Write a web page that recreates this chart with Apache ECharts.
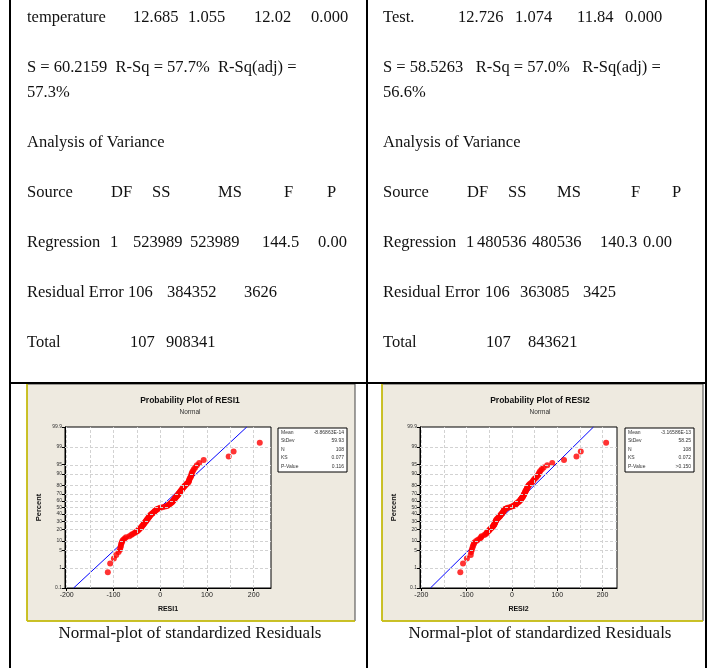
<!DOCTYPE html>
<html>
<head>
<meta charset="utf-8">
<script src="https://cdn.jsdelivr.net/npm/echarts@6/dist/echarts.min.js"></script>
<style>html,body{margin:0;padding:0;background:#fff;}#c{width:713px;height:668px;}</style>
</head>
<body>
<div id="c"></div>
<script>
// ---------- DATA ----------
const resi1 = [-112,-107,-99,-94,-89,-86,-85,-84,-83.5,-82,
 -81,-79,-76,-73,-66,-62,-59,-55,-52,-49,
 -47,-45,-44,-41,-40,-39,-37,-36,-35,-34,
 -33,-31,-30.5,-29,-28.5,-27,-26,-25,-24,-23,
 -22,-21,-20,-18,-16.5,-15,-13.5,-12,-11,-9,
 -7,-6,-3.5,0,5,10.7,14,16.5,18,20,
 21.5,23.5,25,26.5,27,28.5,29.5,30,31.5,32,
 33.5,34.5,36,37,38.5,39,40,41.5,43,43.5,
 45,46.5,47,48.5,50,51.5,53,55,56.5,59,
 60.7,61.5,62,63,64,66,66.5,67,68,70,
 72,75,78.5,83.5,93,146.5,157,213];
const resi2 = [-114,-108,-99.5,-91,-90,-88.5,-87,-86,-84,-83,
 -79,-75,-70.5,-68,-67,-61,-57.5,-56,-54.5,-52,
 -50,-49,-46.5,-45,-43,-41.5,-40,-39,-38.5,-38,
 -37,-36.5,-35.5,-35,-34,-33,-31,-30,-28.5,-27,
 -26,-25.5,-24,-23,-22,-20,-19.5,-19,-18,-17.5,
 -17,-14.5,-12.5,-9.5,-4.5,-0.5,3,5,7,9,
 10,11.5,14,15,17,18,19,20,21,22,
 23,24,25,25.5,26.5,27,28,29,29.5,30,
 31,32,33,33.5,34.5,35.5,36.5,38,40,42.5,
 45,46.5,48,50,53,55,57.5,59,60.5,62.5,
 66,70,78,89,115,142.5,152,208];
const percentTicks = [0.1,1,5,10,20,30,40,50,60,70,80,90,95,99,99.9];
const xLabelValues = [-200,-100,0,100,200];
const xGridValues = [-200,-150,-100,-50,0,50,100,150,200];
const statLabels = ['Mean','StDev','N','KS','P-Value'];
const stats1 = ['-8.86863E-14','59.93','108','0.077','0.116'];
const stats2 = ['-3.16586E-13','58.25','108','0.072','>0.150'];
const fitMean1 = -8.86863e-14, fitSd1 = 59.93;
const fitMean2 = -3.16586e-13, fitSd2 = 58.25;
const plotTitles = ['Probability Plot of RESI1','Probability Plot of RESI2'];
const plotSub = 'Normal';
const xNames = ['RESI1','RESI2'];
const yName = 'Percent';
const caption = 'Normal-plot of standardized Residuals';

const leftRows = [
 ['temperature','12.685','1.055','12.02','0.000'],
 ['S = 60.2159  R-Sq = 57.7%  R-Sq(adj) ='],
 ['57.3%'],
 ['Analysis of Variance'],
 ['Source','DF','SS','MS','F','P'],
 ['Regression','1','523989','523989','144.5','0.00'],
 ['Residual Error','106','384352','3626'],
 ['Total','107','908341']
];
const rightRows = [
 ['Test.','12.726','1.074','11.84','0.000'],
 ['S = 58.5263   R-Sq = 57.0%   R-Sq(adj) ='],
 ['56.6%'],
 ['Analysis of Variance'],
 ['Source','DF','SS','MS','F','P'],
 ['Regression','1','480536','480536','140.3','0.00'],
 ['Residual Error','106','363085','3425'],
 ['Total','107','843621']
];

// ---------- LAYOUT ----------
const rowY = [18,68,93,143,193,243,293,343];
const leftColX = [
 [27,133,188,254,311],
 [27],[27],[27],
 [27,111,152,218,284,327],
 [27,110,133,190,262,318],
 [27,128,167,244],
 [27,130,166]
];
const rightColX = [
 [383,458,515,577,625],
 [383],[383],[383],
 [383,467,508,557,631,672],
 [383,466,477,532,600,643],
 [383,485,520,583],
 [383,486,528]
];

function qnorm(p){
 const a=[-3.969683028665376e+01,2.209460984245205e+02,-2.759285104469687e+02,1.383577518672690e+02,-3.066479806614716e+01,2.506628277459239e+00];
 const b=[-5.447609879822406e+01,1.615858368580409e+02,-1.556989798598866e+02,6.680131188771972e+01,-1.328068155288572e+01];
 const c=[-7.784894002430293e-03,-3.223964580411365e-01,-2.400758277161838e+00,-2.549732539343734e+00,4.374664141464968e+00,2.938163982698783e+00];
 const d=[7.784695709041462e-03,3.224671290700398e-01,2.445134137142996e+00,3.754408661907416e+00];
 const pl=0.02425, ph=1-pl; let q,r;
 if(p<pl){q=Math.sqrt(-2*Math.log(p));return (((((c[0]*q+c[1])*q+c[2])*q+c[3])*q+c[4])*q+c[5])/((((d[0]*q+d[1])*q+d[2])*q+d[3])*q+1);}
 if(p>ph){q=Math.sqrt(-2*Math.log(1-p));return -(((((c[0]*q+c[1])*q+c[2])*q+c[3])*q+c[4])*q+c[5])/((((d[0]*q+d[1])*q+d[2])*q+d[3])*q+1);}
 q=p-0.5;r=q*q;return (((((a[0]*r+a[1])*r+a[2])*r+a[3])*r+a[4])*r+a[5])*q/(((((b[0]*r+b[1])*r+b[2])*r+b[3])*r+b[4])*r+1);
}
const zTicks = percentTicks.map(p=>qnorm(p/100));
const zMin = zTicks[0], zMax = zTicks[zTicks.length-1];
function pctLabel(v){
 for(let i=0;i<zTicks.length;i++){ if(Math.abs(zTicks[i]-v)<1e-6) return String(percentTicks[i]); }
 return '';
}
function probPoints(arr){
 const s = arr.slice().sort((a,b)=>a-b), n=s.length;
 return s.map((v,i)=>[v, qnorm((i+1-0.3)/(n+0.4))]);
}

const SERIF = '"Liberation Serif", "DejaVu Serif", serif';
const SANS = '"Liberation Sans", "DejaVu Sans", sans-serif';

const graphics = [];
const lineStyle = {stroke:'#000', lineWidth:2};
[10,367,706].forEach(x=>graphics.push({type:'line', shape:{x1:x,y1:0,x2:x,y2:668}, style:lineStyle, z:50}));
graphics.push({type:'line', shape:{x1:10,y1:383,x2:706,y2:383}, style:lineStyle, z:50});
function addRows(rows, colX){
 rows.forEach((r,ri)=>r.forEach((t,ci)=>graphics.push({type:'text', x:colX[ri][ci], y:rowY[ri],
   style:{text:t, font:'16.5px '+SERIF, fill:'#111', verticalAlign:'middle', align:'left'}})));
}
addRows(leftRows,leftColX); addRows(rightRows,rightColX);
const panels = [{x:27,y:384,w:328,h:237,cx:190,box:278},{x:382,y:384,w:321,h:237,cx:540,box:625}];
panels.forEach((p,k)=>{
 graphics.push({type:'rect', shape:{x:p.x,y:p.y,width:p.w,height:p.h}, style:{fill:'#EEEAE0', stroke:'#444', lineWidth:1}, z:-100});
 graphics.push({type:'line', shape:{x1:p.x,y1:p.y,x2:p.x,y2:p.y+p.h}, style:{stroke:'#D8CC00',lineWidth:1.5}, z:-99});
 graphics.push({type:'line', shape:{x1:p.x,y1:p.y+p.h,x2:p.x+p.w,y2:p.y+p.h}, style:{stroke:'#D8CC00',lineWidth:1.5}, z:-99});
 graphics.push({type:'text', x:p.cx, y:401, style:{text:plotTitles[k], font:'bold 8.5px '+SANS, fill:'#111', align:'center', verticalAlign:'middle'}});
 graphics.push({type:'text', x:p.cx, y:412, style:{text:plotSub, font:'6.5px '+SANS, fill:'#333', align:'center', verticalAlign:'middle'}});
 graphics.push({type:'rect', shape:{x:p.box,y:428,width:69,height:44}, style:{fill:'#fff', stroke:'#000', lineWidth:1}, z:10});
 const vals = k===0?stats1:stats2;
 statLabels.forEach((s,i)=>{
   graphics.push({type:'text', x:p.box+3, y:432.5+i*8.5, style:{text:s, font:'5px '+SANS, fill:'#333', align:'left', verticalAlign:'middle'}, z:11});
   graphics.push({type:'text', x:p.box+66, y:432.5+i*8.5, style:{text:vals[i], font:'5px '+SANS, fill:'#333', align:'right', verticalAlign:'middle'}, z:11});
 });
 graphics.push({type:'text', x:p.cx, y:634, style:{text:caption, font:'17px '+SERIF, fill:'#111', align:'center', verticalAlign:'middle'}});
});

const grids = [
 {left:65, top:427, width:206, height:161},
 {left:420, top:427, width:197, height:161}
];
const xRanges = [[-203.6,237],[-203,232]];

function makeX(i){
 return {gridIndex:i, type:'value', min:xRanges[i][0], max:xRanges[i][1],
  name:xNames[i], nameLocation:'middle', nameGap:18,
  nameTextStyle:{fontFamily:SANS, fontWeight:'bold', fontSize:7, color:'#111'},
  axisLine:{show:true, onZero:false, lineStyle:{color:'#000', width:1}},
  axisTick:{show:true, customValues:xLabelValues, length:3, lineStyle:{color:'#000'}},
  axisLabel:{customValues:xLabelValues, fontSize:7, color:'#222', margin:4, fontFamily:SANS},
  splitLine:{show:false}};
}
function makeY(i){
 return {gridIndex:i, type:'value', min:zMin, max:zMax,
  name:yName, nameLocation:'middle', nameGap:22, nameRotate:90,
  nameTextStyle:{fontFamily:SANS, fontWeight:'bold', fontSize:7.5, color:'#111'},
  axisLine:{show:true, onZero:false, lineStyle:{color:'#000', width:1}},
  axisTick:{show:true, customValues:zTicks, length:3, lineStyle:{color:'#000'}},
  axisLabel:{customValues:zTicks, formatter:pctLabel, fontSize:5, color:'#333', margin:3, fontFamily:SANS},
  splitLine:{show:false}};
}
const gridLineMarks = {silent:true, symbol:['none','none'], label:{show:false},
  lineStyle:{type:[3,2], color:'#d2d2d2', width:1},
  data: xGridValues.map(v=>({xAxis:v})).concat(zTicks.slice(1,-1).map(v=>({yAxis:v})))};

const series = [];
[[resi1,fitMean1,fitSd1],[resi2,fitMean2,fitSd2]].forEach((d,i)=>{
 series.push({type:'line', xAxisIndex:i, yAxisIndex:i, data:[], markLine:gridLineMarks, z:1});
 series.push({type:'line', xAxisIndex:i, yAxisIndex:i, showSymbol:false, symbol:'none',
   data:[[d[1]+d[2]*zMin, zMin],[d[1]+d[2]*zMax, zMax]],
   lineStyle:{color:'#0000FF', width:1}, z:3, clip:true, animation:false});
 series.push({type:'scatter', xAxisIndex:i, yAxisIndex:i, data:probPoints(d[0]),
   symbol:'circle', symbolSize:6, itemStyle:{color:'#FF0000'}, z:4, animation:false});
});

const chart = echarts.init(document.getElementById('c'), null, {renderer:'canvas'});
chart.setOption({
 animation:false,
 backgroundColor:'#fff',
 grid: grids.map(g=>Object.assign({show:true, backgroundColor:'#fff', borderColor:'#000', borderWidth:1, containLabel:false}, g)),
 xAxis:[makeX(0),makeX(1)],
 yAxis:[makeY(0),makeY(1)],
 series:series,
 graphic:{elements:graphics}
});
</script>
</body>
</html>
